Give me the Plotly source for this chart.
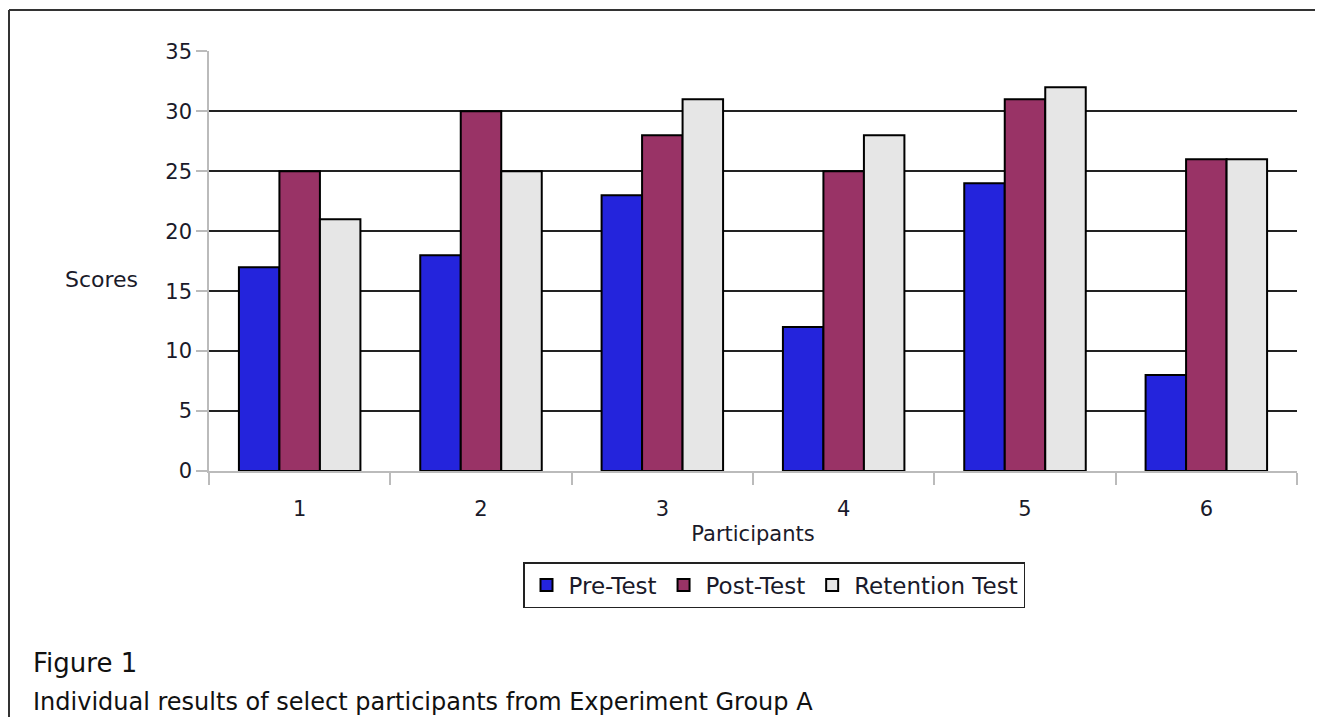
import plotly.graph_objects as go

participants = ["1", "2", "3", "4", "5", "6"]
pre_test = [17, 18, 23, 12, 24, 8]
post_test = [25, 30, 28, 25, 31, 26]
retention_test = [21, 25, 31, 28, 32, 26]
y_ticks = [0, 5, 10, 15, 20, 25, 30, 35]

FONT = "DejaVu Sans"
TXT = "#1a1a2a"

OFF = 8  # page body margin
W, H = 1323 - OFF, 717 - OFF
L, T = 209 - OFF, 51 - OFF
R = W - (1297 - OFF)
B = H - (471 - OFF)
pw, ph = W - L - R, H - T - B


def px(x):
    return (x - OFF - L) / pw


def py(y):
    return (H - B - (y - OFF)) / ph


fig = go.Figure()
for name, vals, col in [("Pre-Test", pre_test, "#2424DC"),
                        ("Post-Test", post_test, "#993366"),
                        ("Retention Test", retention_test, "#E6E6E6")]:
    fig.add_trace(go.Bar(x=participants, y=vals, name=name,
                         marker=dict(color=col, line=dict(color="black", width=2))))

fig.update_layout(
    width=W, height=H,
    margin=dict(l=L, r=R, t=T, b=B),
    paper_bgcolor="white", plot_bgcolor="white",
    barmode="group", bargap=0.33, bargroupgap=0,
    font=dict(family=FONT, size=21, color=TXT),
    showlegend=True,
    legend=dict(orientation="h", x=px(774), xanchor="center", y=py(562), yanchor="top",
                bordercolor="#222", borderwidth=1.5, font=dict(size=23, color=TXT),
                itemsizing="constant", traceorder="normal", itemwidth=34),
    xaxis=dict(type="category", tickson="boundaries", ticks="outside", ticklen=12,
               tickcolor="#bbbbbb", tickwidth=1.5, showline=True, linecolor="#bbbbbb",
               linewidth=1.5, showgrid=False, ticklabelstandoff=18,
               title=dict(text="Participants", font=dict(size=21, color=TXT), standoff=6),
               tickfont=dict(size=21, color=TXT)),
    yaxis=dict(range=[0, 35.03], tickvals=y_ticks, ticks="outside", ticklen=11,
               tickcolor="#bbbbbb", tickwidth=1.5, showline=True, linecolor="#bbbbbb",
               linewidth=1.5, showgrid=True, gridcolor="#222222", gridwidth=1.5,
               zeroline=False, tickfont=dict(size=21, color=TXT), ticklabelstandoff=0),
)

fig.add_annotation(text="Scores", x=px(63), y=py(279), xref="paper", yref="paper",
                   xanchor="left", yanchor="middle", showarrow=False,
                   font=dict(size=22, color=TXT))
fig.add_annotation(text="Figure 1", x=px(31), y=py(663), xref="paper", yref="paper",
                   xanchor="left", yanchor="middle", showarrow=False,
                   font=dict(size=26, color="#111"))
fig.add_annotation(text="Individual results of select participants from Experiment Group A",
                   x=px(31), y=py(702), xref="paper", yref="paper",
                   xanchor="left", yanchor="middle", showarrow=False,
                   font=dict(size=24, color="#111"))

fig.add_shape(type="line", xref="paper", yref="paper",
              x0=px(9), y0=py(717), x1=px(9), y1=py(10),
              line=dict(color="#333333", width=2))
fig.add_shape(type="line", xref="paper", yref="paper",
              x0=px(9), y0=py(10), x1=px(1323), y1=py(10),
              line=dict(color="#333333", width=2))

fig.write_html("out.html")
